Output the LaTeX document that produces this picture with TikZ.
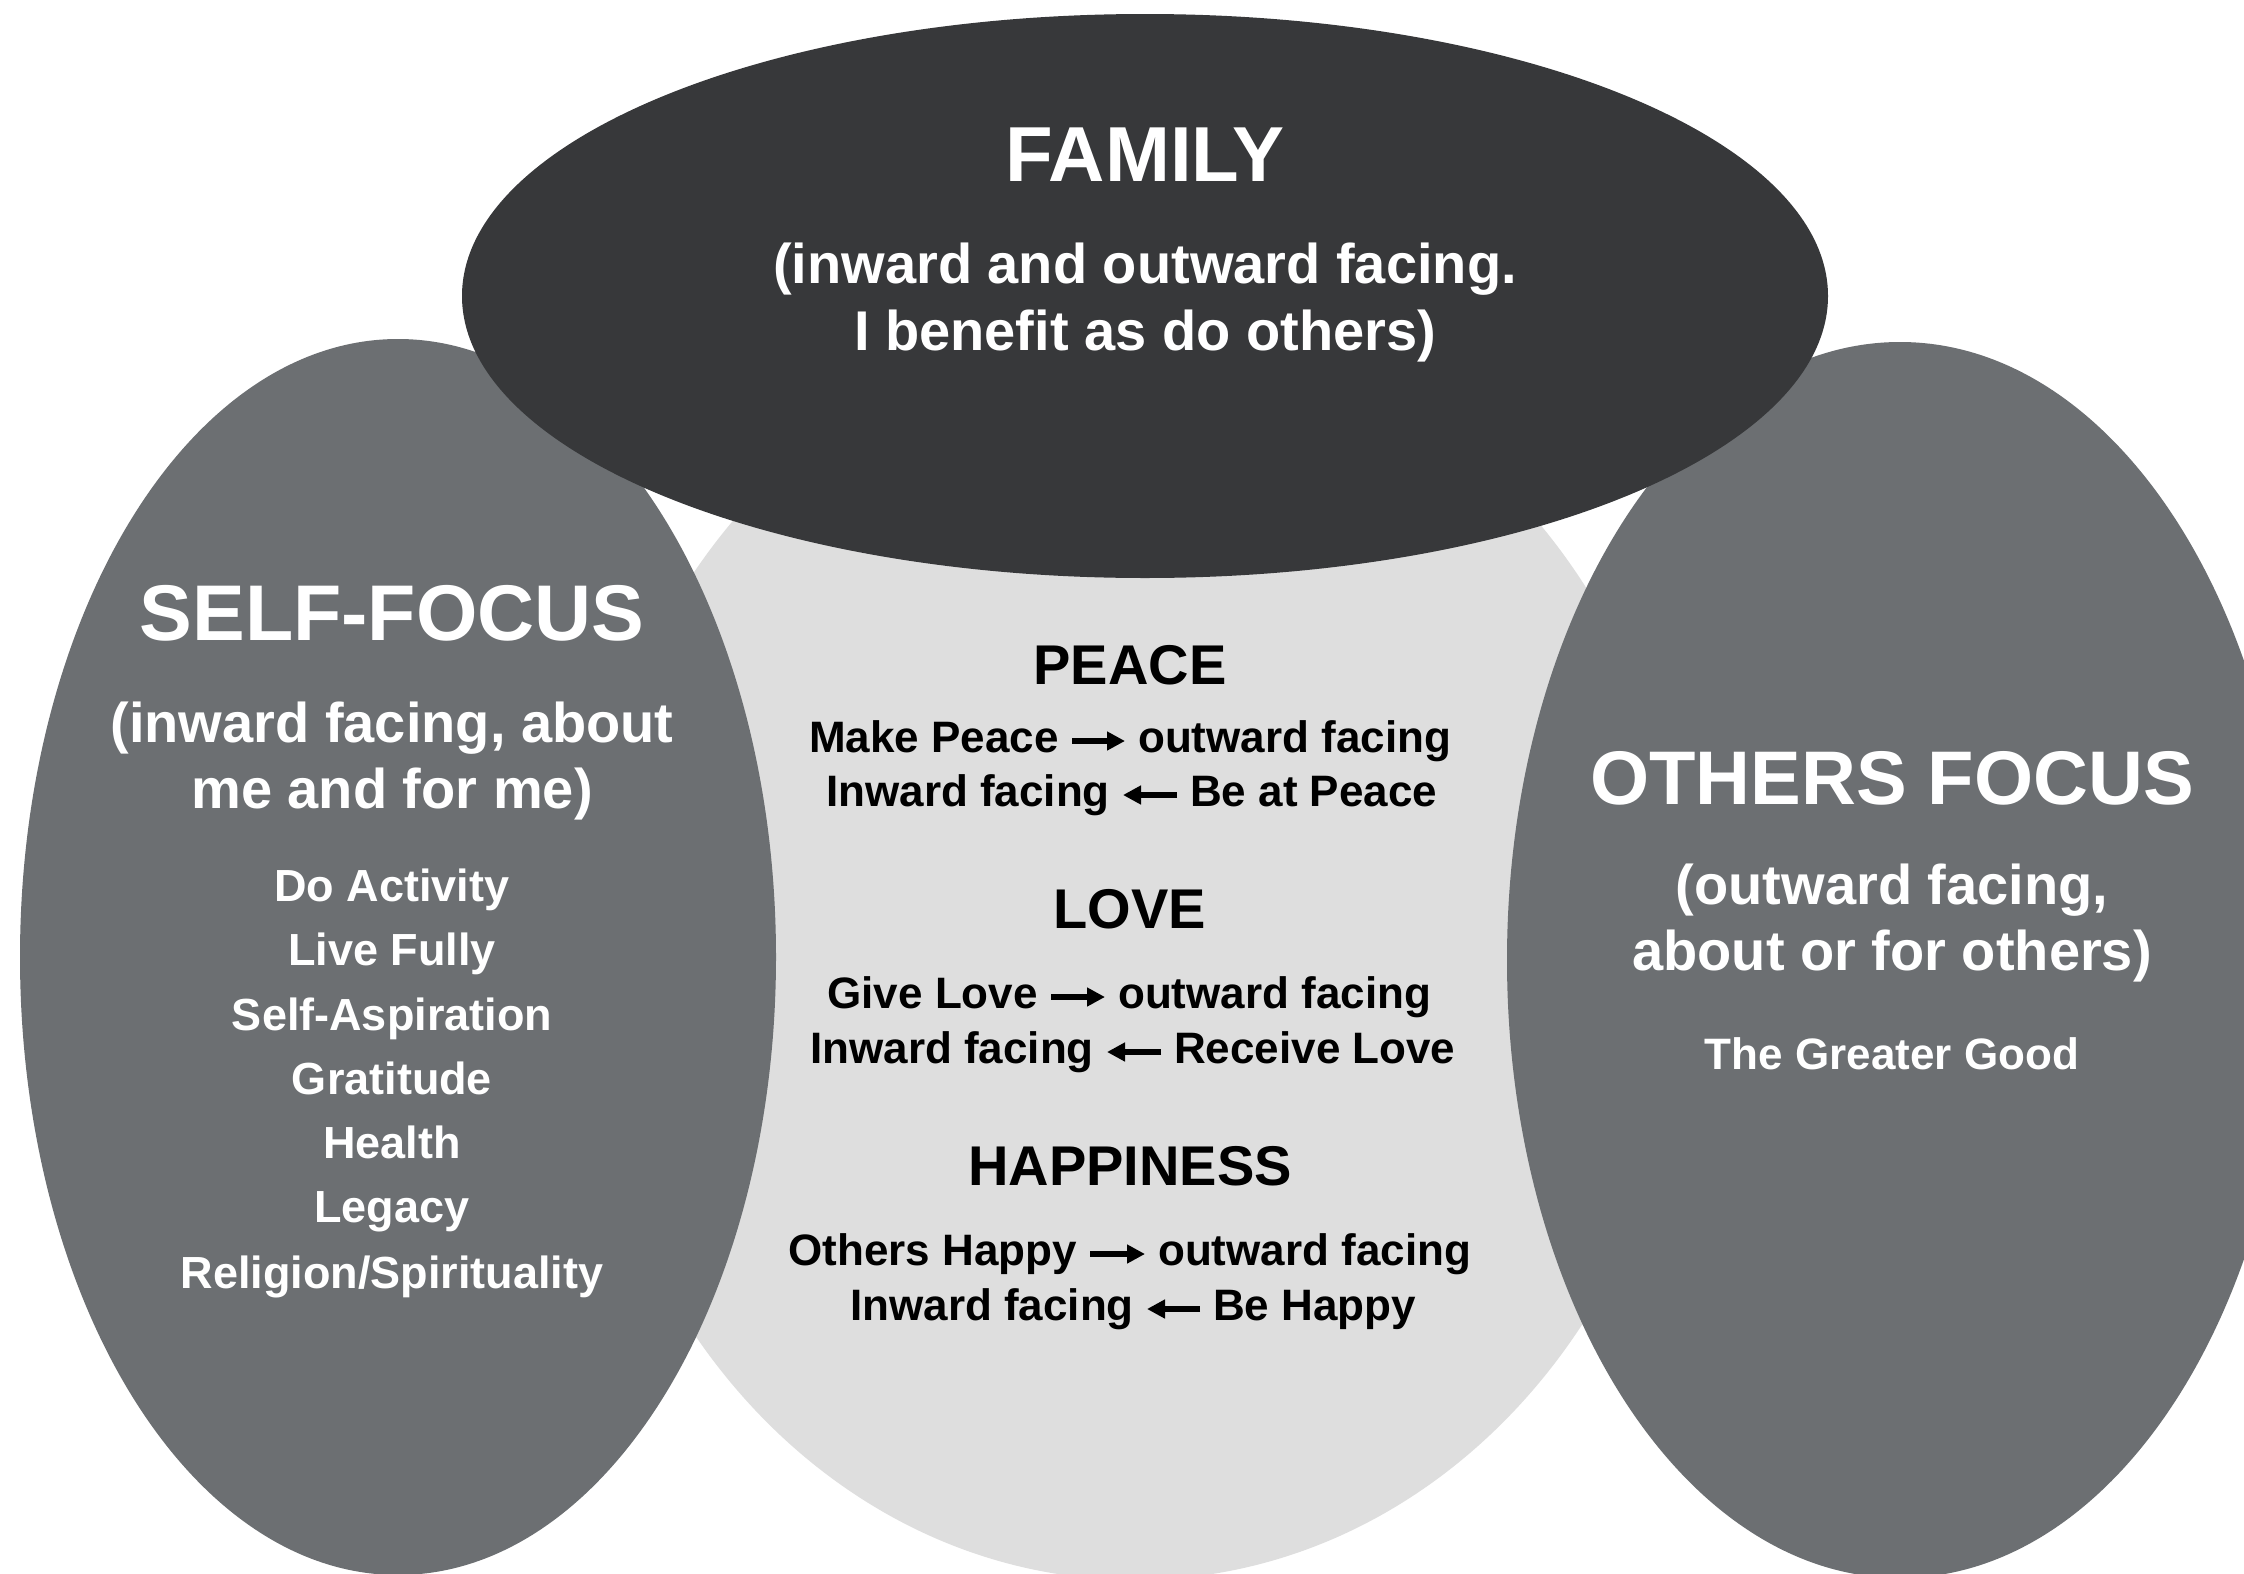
\documentclass[tikz,border=0pt]{standalone}
\usepackage{fontspec}
\setmainfont{Liberation Sans}
\usetikzlibrary{shapes.geometric,arrows.meta}
\definecolor{famc}{RGB}{55,56,58}
\definecolor{sidec}{RGB}{108,111,114}
\definecolor{midc}{RGB}{222,222,222}
\newcommand\fsz[1]{\fontsize{#1}{#1}\selectfont}
\begin{document}
\begin{tikzpicture}[x=1pt,y=-1pt,
  blob/.style={ellipse,draw=none,inner sep=0pt,outer sep=0pt},
  wtxt/.style={text=white,inner sep=0pt,anchor=base},
  btxt/.style={text=black,inner sep=0pt,anchor=base},
  rowbase/.style={text=black,inner xsep=13pt,inner ysep=0pt,text height=33pt,text depth=11pt,font=\bfseries\fsz{44}},
  rowl/.style={rowbase,anchor=base east},
  rowr/.style={rowbase,anchor=base west},
  arr/.style={line width=6.5pt,-{Triangle[length=18pt,width=18pt]}}
]
\useasboundingbox (0,0) rectangle (2244,1574);
\clip (0,0) rectangle (2244,1574);
\fill[white] (0,0) rectangle (2244,1574);

% shapes
\node[blob,fill=midc,minimum width=1110pt,minimum height=1254pt] (mid) at (1135,953) {};
\node[blob,fill=sidec,minimum width=756pt,minimum height=1236pt] (self) at (398,957) {};
\node[blob,fill=sidec,minimum width=786pt,minimum height=1236pt] (others) at (1900,960) {};
\node[blob,fill=famc,minimum width=1366pt,minimum height=564pt] (family) at (1145,296) {};

% family text
\node[wtxt,font=\bfseries\fsz{78}] (famt) at (1145,181) {FAMILY};
\node[wtxt,font=\bfseries\fsz{56}] (fam1) at (1145,283) {(inward and outward facing.};
\node[wtxt,font=\bfseries\fsz{56}] (fam2) at (1145,350) {I benefit as do others)};

% self focus text
\node[wtxt,font=\bfseries\fsz{79}] (selft) at (392,640) {SELF-FOCUS};
\node[wtxt,font=\bfseries\fsz{56}] (self1) at (392,742) {(inward facing, about};
\node[wtxt,font=\bfseries\fsz{56}] (self2) at (392,808) {me and for me)};
\node[wtxt,font=\bfseries\fsz{45}] (si1) at (392,901) {Do Activity};
\node[wtxt,font=\bfseries\fsz{45}] (si2) at (392,965) {Live Fully};
\node[wtxt,font=\bfseries\fsz{45}] (si3) at (392,1030) {Self-Aspiration};
\node[wtxt,font=\bfseries\fsz{45}] (si4) at (392,1094) {Gratitude};
\node[wtxt,font=\bfseries\fsz{45}] (si5) at (392,1158) {Health};
\node[wtxt,font=\bfseries\fsz{45}] (si6) at (392,1222) {Legacy};
\node[wtxt,font=\bfseries\fsz{45}] (si7) at (392,1288) {Religion/Spirituality};

% others focus text
\node[wtxt,font=\bfseries\fsz{76}] (otht) at (1892,804) {OTHERS FOCUS};
\node[wtxt,font=\bfseries\fsz{56}] (oth1) at (1892,904) {(outward facing,};
\node[wtxt,font=\bfseries\fsz{56}] (oth2) at (1892,970) {about or for others)};
\node[wtxt,font=\bfseries\fsz{44}] (oth3) at (1892,1069) {The Greater Good};

% middle headings
\node[btxt,font=\bfseries\fsz{56}] (peace) at (1130,684) {PEACE};
\node[btxt,font=\bfseries\fsz{56}] (love) at (1130,928) {LOVE};
\node[btxt,font=\bfseries\fsz{56}] (happy) at (1130,1185) {HAPPINESS};

% rows
\node[rowl] (r1l) at (1072,752) {Make Peace};
\node[rowr] (r1r) at (1125,752) {outward facing};
\draw[arr] (r1l.east) -- (r1r.west);
\node[rowl] (r2l) at (1123,806) {Inward facing};
\node[rowr] (r2r) at (1177,806) {Be at Peace};
\draw[arr] (r2r.west) -- (r2l.east);

\node[rowl] (r3l) at (1051,1008) {Give Love};
\node[rowr] (r3r) at (1105,1008) {outward facing};
\draw[arr] (r3l.east) -- (r3r.west);
\node[rowl] (r4l) at (1107,1063) {Inward facing};
\node[rowr] (r4r) at (1161,1063) {Receive Love};
\draw[arr] (r4r.west) -- (r4l.east);

\node[rowl] (r5l) at (1090,1265) {Others Happy};
\node[rowr] (r5r) at (1145,1265) {outward facing};
\draw[arr] (r5l.east) -- (r5r.west);
\node[rowl] (r6l) at (1147,1320) {Inward facing};
\node[rowr] (r6r) at (1200,1320) {Be Happy};
\draw[arr] (r6r.west) -- (r6l.east);
\end{tikzpicture}
\end{document}
